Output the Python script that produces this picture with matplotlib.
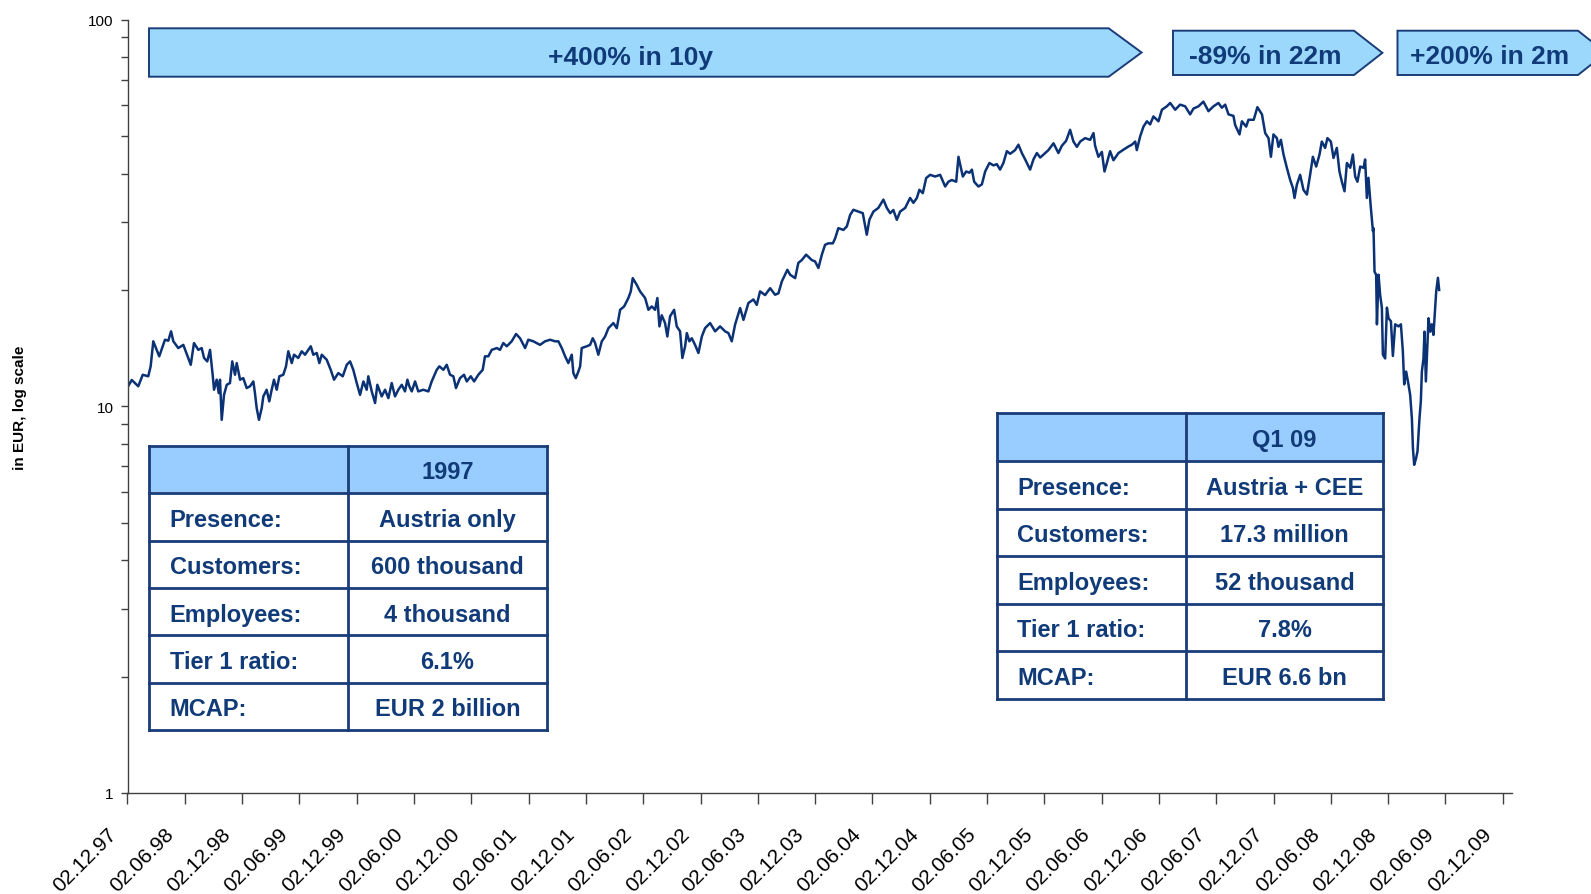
import numpy as np
import pandas as pd
import matplotlib
matplotlib.use("Agg")
import matplotlib.pyplot as plt
import matplotlib.dates as mdates
from matplotlib.patches import Polygon, Rectangle
from matplotlib.lines import Line2D
from matplotlib.transforms import Affine2D, ScaledTranslation, blended_transform_factory

plt.rcParams['font.family'] = ['Liberation Sans', 'DejaVu Sans']

# ---------------- data ----------------
year_frac = [
    1997.917, 1997.954, 1998.011, 1998.050, 1998.098, 1998.119, 1998.142, 1998.172, 1998.194, 1998.244,
    1998.273, 1998.297, 1998.317, 1998.360, 1998.404, 1998.425, 1998.469, 1998.497, 1998.535, 1998.564,
    1998.585, 1998.613, 1998.637, 1998.660, 1998.672, 1998.695, 1998.713, 1998.724, 1998.739, 1998.759,
    1998.783, 1998.811, 1998.831, 1998.855, 1998.870, 1998.899, 1998.927, 1998.957, 1998.986, 1999.015,
    1999.029, 1999.044, 1999.064, 1999.088, 1999.102, 1999.131, 1999.154, 1999.175, 1999.195, 1999.219,
    1999.242, 1999.276, 1999.300, 1999.320, 1999.350, 1999.370, 1999.407, 1999.437, 1999.466, 1999.486,
    1999.516, 1999.538, 1999.568, 1999.591, 1999.612, 1999.655, 1999.690, 1999.719, 1999.756, 1999.795,
    1999.830, 1999.859, 1999.887, 1999.917, 1999.946, 1999.975, 2000.004, 2000.018, 2000.048, 2000.077,
    2000.097, 2000.135, 2000.164, 2000.193, 2000.222, 2000.251, 2000.280, 2000.310, 2000.338, 2000.359,
    2000.376, 2000.397, 2000.426, 2000.454, 2000.498, 2000.542, 2000.571, 2000.615, 2000.638, 2000.673,
    2000.702, 2000.731, 2000.760, 2000.783, 2000.818, 2000.853, 2000.877, 2000.912, 2000.941, 2000.978,
    2001.016, 2001.036, 2001.065, 2001.095, 2001.139, 2001.167, 2001.196, 2001.226, 2001.269, 2001.307,
    2001.342, 2001.386, 2001.414, 2001.458, 2001.516, 2001.560, 2001.604, 2001.647, 2001.676, 2001.706,
    2001.735, 2001.763, 2001.793, 2001.807, 2001.828, 2001.851, 2001.866, 2001.880, 2001.924, 2001.953,
    2001.976, 2001.996, 2002.025, 2002.055, 2002.084, 2002.113, 2002.156, 2002.186, 2002.215, 2002.250,
    2002.287, 2002.308, 2002.325, 2002.360, 2002.389, 2002.433, 2002.462, 2002.491, 2002.520, 2002.540,
    2002.558, 2002.578, 2002.607, 2002.627, 2002.651, 2002.686, 2002.709, 2002.738, 2002.758, 2002.782,
    2002.797, 2002.819, 2002.840, 2002.869, 2002.898, 2002.928, 2002.956, 2003.000, 2003.044, 2003.087,
    2003.131, 2003.160, 2003.189, 2003.218, 2003.262, 2003.291, 2003.334, 2003.378, 2003.407, 2003.436,
    2003.480, 2003.524, 2003.567, 2003.596, 2003.626, 2003.674, 2003.698, 2003.742, 2003.770, 2003.800,
    2003.838, 2003.887, 2003.916, 2003.945, 2003.975, 2004.003, 2004.032, 2004.071, 2004.091, 2004.119,
    2004.163, 2004.193, 2004.222, 2004.250, 2004.294, 2004.332, 2004.367, 2004.390, 2004.425, 2004.468,
    2004.512, 2004.542, 2004.571, 2004.599, 2004.629, 2004.658, 2004.702, 2004.745, 2004.774, 2004.804,
    2004.826, 2004.856, 2004.885, 2004.920, 2004.963, 2005.007, 2005.051, 2005.079, 2005.109, 2005.147,
    2005.167, 2005.205, 2005.234, 2005.263, 2005.284, 2005.304, 2005.341, 2005.371, 2005.400, 2005.437,
    2005.472, 2005.502, 2005.530, 2005.559, 2005.589, 2005.618, 2005.661, 2005.690, 2005.720, 2005.749,
    2005.792, 2005.821, 2005.851, 2005.880, 2005.923, 2005.952, 2005.996, 2006.039, 2006.069, 2006.106,
    2006.141, 2006.170, 2006.200, 2006.229, 2006.272, 2006.316, 2006.345, 2006.359, 2006.388, 2006.418,
    2006.441, 2006.462, 2006.490, 2006.519, 2006.563, 2006.606, 2006.650, 2006.680, 2006.709, 2006.723,
    2006.752, 2006.781, 2006.811, 2006.839, 2006.868, 2006.912, 2006.942, 2006.985, 2007.014, 2007.058,
    2007.101, 2007.145, 2007.188, 2007.217, 2007.261, 2007.304, 2007.348, 2007.392, 2007.435, 2007.465,
    2007.494, 2007.523, 2007.566, 2007.581, 2007.619, 2007.640, 2007.677, 2007.697, 2007.743, 2007.775,
    2007.815, 2007.843, 2007.872, 2007.893, 2007.915, 2007.945, 2007.959, 2007.980, 2008.003, 2008.032,
    2008.061, 2008.085, 2008.099, 2008.119, 2008.148, 2008.177, 2008.207, 2008.235, 2008.259, 2008.288,
    2008.317, 2008.337, 2008.366, 2008.386, 2008.416, 2008.439, 2008.468, 2008.491, 2008.512, 2008.535,
    2008.556, 2008.585, 2008.608, 2008.628, 2008.648, 2008.672, 2008.701, 2008.715, 2008.730, 2008.744,
    2008.765, 2008.783, 2008.788, 2008.797, 2008.811, 2008.818, 2008.832, 2008.846, 2008.861, 2008.870,
    2008.890, 2008.905, 2008.919, 2008.940, 2008.957, 2008.977, 2009.006, 2009.027, 2009.044, 2009.056,
    2009.073, 2009.093, 2009.108, 2009.123, 2009.132, 2009.143, 2009.160, 2009.172, 2009.189, 2009.201,
    2009.210, 2009.224, 2009.233, 2009.245, 2009.268, 2009.283, 2009.297, 2009.311, 2009.335, 2009.350,
    2009.361,
]

price = [
    11.2, 11.7, 11.27, 12.07, 11.96, 12.69, 14.73, 14.0, 13.47, 14.87,
    14.78, 15.63, 14.73, 14.15, 14.42, 13.88, 12.81, 14.58, 14.0, 14.15,
    13.34, 13.07, 14.0, 12.07, 11.04, 11.72, 10.82, 11.72, 9.23, 10.71,
    11.37, 11.49, 13.07, 12.07, 12.94, 11.72, 11.83, 11.15, 11.27, 11.6,
    10.82, 9.9, 9.23, 9.9, 10.61, 11.04, 10.3, 11.04, 11.72, 11.04,
    11.96, 12.07, 12.69, 13.88, 12.94, 13.6, 13.34, 13.88, 13.6, 13.88,
    14.3, 13.6, 13.74, 12.94, 13.6, 13.2, 12.43, 11.72, 12.19, 11.96,
    12.81, 13.07, 12.43, 11.49, 10.71, 11.6, 11.04, 11.96, 10.93, 10.2,
    11.37, 10.61, 11.04, 10.5, 11.49, 10.61, 11.04, 11.37, 10.93, 11.72,
    11.27, 10.93, 11.6, 10.93, 11.04, 10.93, 11.6, 12.43, 12.69, 12.43,
    12.81, 12.07, 11.96, 11.15, 11.83, 12.07, 11.6, 11.96, 11.6, 12.07,
    12.43, 13.47, 13.47, 14.0, 14.15, 14.0, 14.58, 14.3, 14.73, 15.39,
    15.0, 14.15, 14.87, 14.73, 14.42, 14.73, 14.87, 14.73, 14.73, 14.15,
    13.47, 12.94, 13.6, 12.19, 11.83, 12.31, 12.69, 14.15, 14.3, 14.42,
    15.0, 14.6, 13.6, 14.73, 15.16, 15.93, 16.42, 15.93, 17.77, 18.13,
    19.06, 19.83, 21.46, 20.62, 19.83, 19.06, 17.77, 18.13, 17.77, 19.06,
    16.1, 17.2, 16.42, 15.16, 17.1, 17.77, 16.1, 15.63, 13.34, 14.3,
    15.47, 14.73, 15.0, 14.42, 13.74, 15.16, 15.93, 16.42, 15.63, 16.1,
    15.63, 15.47, 14.73, 16.27, 17.96, 16.74, 18.5, 18.9, 18.3, 19.83,
    19.4, 20.21, 19.44, 19.6, 21.04, 22.55, 21.9, 21.46, 23.5, 23.9,
    24.68, 23.9, 23.7, 22.79, 24.68, 26.17, 26.4, 26.4, 27.2, 28.9,
    28.6, 29.2, 31.27, 32.24, 31.9, 31.6, 27.79, 30.4, 31.9, 32.6,
    34.25, 32.6, 31.6, 32.2, 30.37, 31.9, 32.6, 34.6, 33.6, 34.6,
    36.31, 35.6, 38.94, 39.7, 39.3, 39.7, 37.03, 38.1, 38.5, 38.1,
    44.2, 39.3, 40.5, 40.2, 40.95, 38.1, 37.03, 37.5, 40.5, 42.6,
    42.0, 42.3, 40.95, 42.6, 45.7, 45.0, 46.0, 47.5, 45.2, 43.5,
    40.95, 43.5, 45.2, 44.0, 45.2, 46.0, 47.9, 45.2, 47.2, 48.6,
    51.9, 48.4, 46.9, 48.4, 49.4, 48.9, 50.9, 47.2, 44.2, 45.5,
    40.5, 42.6, 45.7, 43.3, 45.2, 46.1, 47.0, 47.5, 48.4, 46.0,
    49.9, 52.9, 54.6, 53.6, 56.2, 54.6, 58.5, 59.7, 60.9, 58.5,
    60.3, 59.7, 56.9, 58.9, 59.7, 61.4, 58.0, 59.7, 60.9, 59.2,
    60.3, 56.9, 56.4, 53.4, 50.5, 54.6, 52.9, 55.1, 55.1, 59.4,
    56.9, 50.9, 49.4, 44.2, 50.5, 49.4, 46.9, 48.9, 44.8, 41.4,
    38.5, 36.7, 34.6, 37.4, 39.7, 36.3, 35.3, 39.7, 44.2, 41.7,
    44.8, 48.4, 46.6, 49.4, 48.4, 43.9, 46.6, 40.5, 38.1, 36.0,
    42.6, 41.4, 44.8, 39.3, 38.1, 41.7, 41.4, 43.5, 34.6, 39.0,
    32.6, 28.4, 28.9, 22.3, 21.9, 16.3, 21.9, 19.4, 18.0, 13.6,
    13.3, 18.0, 16.9, 16.6, 13.5, 16.3, 16.1, 16.3, 13.9, 11.4,
    12.3, 11.4, 10.7, 9.3, 7.8, 7.06, 7.35, 7.65, 9.3, 10.3,
    12.3, 13.3, 15.6, 11.6, 16.9, 15.6, 16.3, 15.3, 19.8, 21.5,
    20.0,
]

x_tick_labels = ['02.12.97', '02.06.98', '02.12.98', '02.06.99', '02.12.99', '02.06.00',
                 '02.12.00', '02.06.01', '02.12.01', '02.06.02', '02.12.02', '02.06.03',
                 '02.12.03', '02.06.04', '02.12.04', '02.06.05', '02.12.05', '02.06.06',
                 '02.12.06', '02.06.07', '02.12.07', '02.06.08', '02.12.08', '02.06.09',
                 '02.12.09']
y_ticks = [1, 10, 100]
y_tick_labels = ['1', '10', '100']

arrow_labels = ['+400% in 10y', '-89% in 22m', '+200% in 2m']

row_labels = ['Presence:', 'Customers:', 'Employees:', 'Tier 1 ratio:', 'MCAP:']
table1_header = '1997'
table1_values = ['Austria only', '600 thousand', '4 thousand', '6.1%', 'EUR 2 billion']
table2_header = 'Q1 09'
table2_values = ['Austria + CEE', '17.3 million', '52 thousand', '7.8%', 'EUR 6.6 bn']

# ---------------- styling ----------------
NAVY = '#0B3275'
TXT = '#103A78'
EDGE = '#1A3C78'
ARROW_FILL = '#9BD8FC'
HEAD_FILL = '#99CCFF'
AXIS_COL = '#404040'

W, H = 1591, 895
fig = plt.figure(figsize=(W / 100, H / 100), dpi=100)
fig.patch.set_facecolor('white')
pix = Affine2D().scale(1.0 / W, -1.0 / H).translate(0, 1) + fig.transFigure

ax = fig.add_axes([127.5 / W, 1 - 794 / H, (1512 - 127.5) / W, (794 - 20.7) / H])

base = pd.Timestamp('1997-12-02')
dates = [base + pd.Timedelta(days=(t - 1997.917) * 365.25) for t in year_frac]
ax.plot(dates, price, color=NAVY, lw=1.8, solid_joinstyle='round')

ax.set_yscale('log')
ax.set_ylim(1, 100)
ax.set_xlim(pd.Timestamp('1997-12-02'), pd.Timestamp('2009-12-31'))

ax.set_yticks(y_ticks)
ax.set_yticklabels(y_tick_labels)
ax.yaxis.set_minor_locator(matplotlib.ticker.LogLocator(base=10, subs=np.arange(2, 10)))
ax.yaxis.set_minor_formatter(matplotlib.ticker.NullFormatter())
ax.tick_params(axis='y', which='both', direction='out', length=5, width=1, color=AXIS_COL,
               labelsize=11, pad=5)

tick_dates = pd.to_datetime(x_tick_labels, format='%d.%m.%y')
ax.set_xticks(mdates.date2num(tick_dates))
ax.set_xticklabels([''] * len(tick_dates))
ax.tick_params(axis='x', which='both', direction='out', length=8, width=1, color=AXIS_COL)
ax.xaxis.set_minor_locator(matplotlib.ticker.NullLocator())

xlab_tr = blended_transform_factory(ax.transData, ax.transAxes) + \
    ScaledTranslation(-21 / 100, -31 / 100, fig.dpi_scale_trans)
for d, lab in zip(mdates.date2num(tick_dates), x_tick_labels):
    ax.text(d, 0, lab, transform=xlab_tr, rotation=45, ha='right', va='top',
            rotation_mode='anchor', fontsize=15, color='black', clip_on=False)

for s in ['top', 'right']:
    ax.spines[s].set_visible(False)
for s in ['left', 'bottom']:
    ax.spines[s].set_color(AXIS_COL)
    ax.spines[s].set_linewidth(1)

ax.set_ylabel('in EUR, log scale', fontsize=11, fontweight='bold', va='center')
ax.yaxis.set_label_coords((20.5 - 127.5) / (1512 - 127.5), 0.5)

# ---------------- arrows ----------------
arrow_geo = [  # (left, body_end, tip, top, bottom, text_baseline)
    (149.0, 1108.7, 1141.6, 29.3, 77.7, 65.0),
    (1173.0, 1354.0, 1382.4, 31.7, 76.0, 64.0),
    (1397.5, 1578.0, 1606.0, 31.7, 76.0, 64.0),
]
for (x0, xb, xt, yt, yb, ybl), lab in zip(arrow_geo, arrow_labels):
    ym = (yt + yb) / 2
    poly = Polygon([(x0, yt), (xb, yt), (xt, ym), (xb, yb), (x0, yb)], closed=True,
                   facecolor=ARROW_FILL, edgecolor=EDGE, lw=1.4, transform=pix)
    fig.add_artist(poly)
    fig.text((x0 + xb) / 2 + 2, ybl, lab, transform=pix, ha='center', va='baseline',
             fontsize=19, fontweight='bold', color=TXT)


# ---------------- tables ----------------
def draw_table(x0, x1, x2, top, rh, header, values):
    n = len(values) + 1
    bottom = top + n * rh
    fig.add_artist(Rectangle((x0, top), x2 - x0, n * rh, facecolor='white',
                             edgecolor='none', transform=pix))
    fig.add_artist(Rectangle((x0, top), x2 - x0, rh, facecolor=HEAD_FILL,
                             edgecolor='none', transform=pix))
    lw = 2.0
    for i in range(n + 1):
        y = top + i * rh
        fig.add_artist(Line2D([x0, x2], [y, y], color=EDGE, lw=lw, transform=pix,
                              solid_capstyle='projecting'))
    for x in (x0, x1, x2):
        fig.add_artist(Line2D([x, x], [top, bottom], color=EDGE, lw=lw, transform=pix,
                              solid_capstyle='projecting'))
    fig.text((x1 + x2) / 2, top + rh / 2 + 9, header, transform=pix, ha='center',
             va='baseline', fontsize=17, fontweight='bold', color=TXT)
    for i, (lab, val) in enumerate(zip(row_labels, values)):
        yc = top + (i + 1.5) * rh + 9
        fig.text(x0 + 20.5, yc, lab, transform=pix, ha='left', va='baseline',
                 fontsize=17, fontweight='bold', color=TXT)
        fig.text((x1 + x2) / 2, yc, val, transform=pix, ha='center', va='baseline',
                 fontsize=17, fontweight='bold', color=TXT)


draw_table(149.3, 348.3, 546.7, 446.7, 47.4, table1_header, table1_values)
draw_table(996.7, 1186.0, 1383.0, 414.3, 47.6, table2_header, table2_values)

fig.savefig('out.png', dpi=100, facecolor='white')
